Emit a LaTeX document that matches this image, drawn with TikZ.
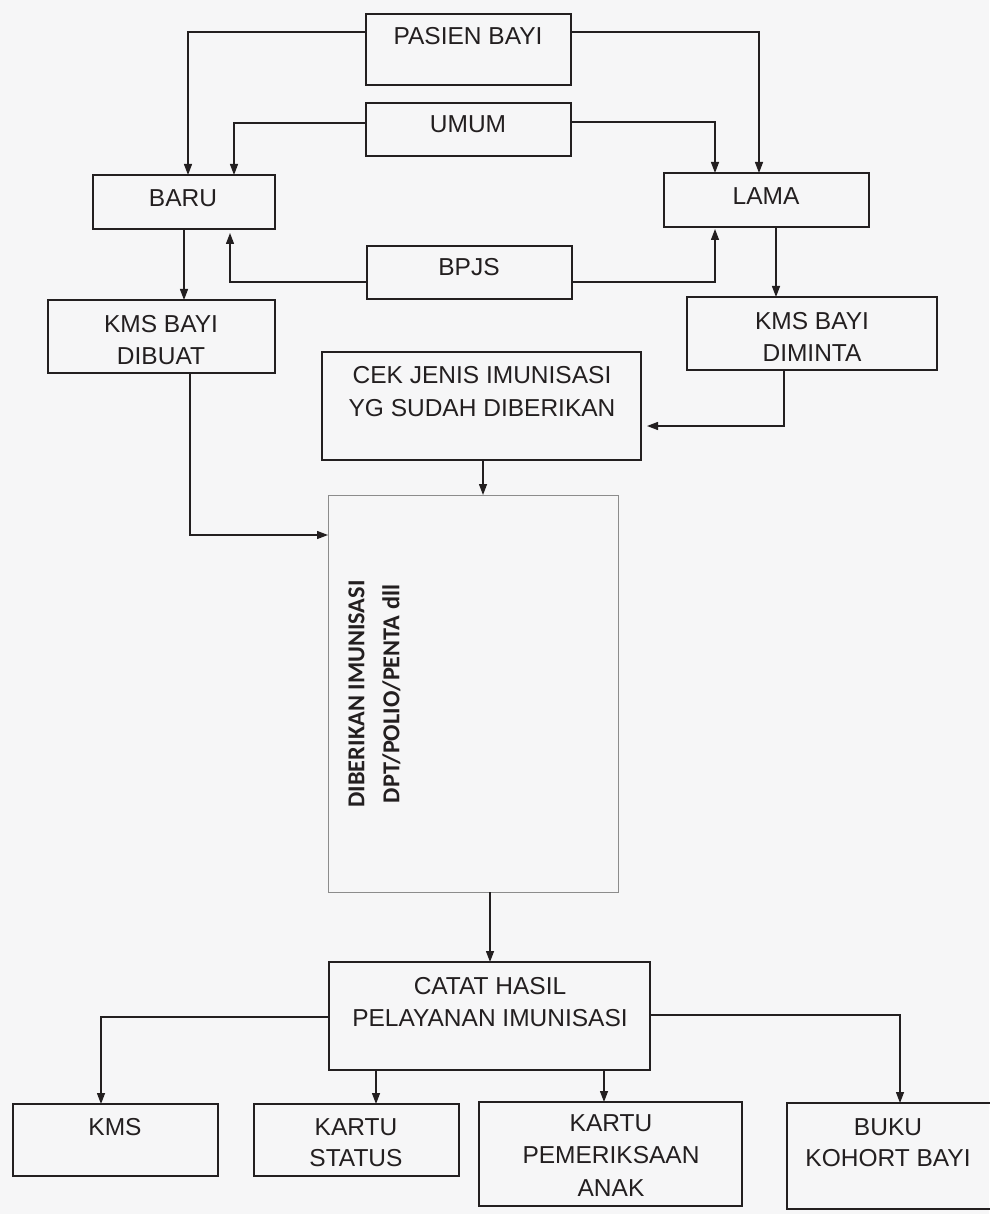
\documentclass[tikz,border=0pt]{standalone}
\usepackage{fontspec}
\setmainfont{Liberation Sans}
\newfontfamily\calibrifont{Carlito}
\usetikzlibrary{arrows.meta}
\definecolor{paper}{RGB}{246,246,247}
\definecolor{ink}{RGB}{35,31,32}
\definecolor{thin}{RGB}{140,140,140}
\tikzset{
  bx/.style={draw=ink, line width=1.7pt, anchor=north west, inner sep=0pt, outer sep=0pt},
  thinbx/.style={draw=thin, line width=0.9pt, anchor=north west, inner sep=0pt, outer sep=0pt},
  txt/.style={font=\fontsize{24.5}{32.5}\selectfont, text=ink, align=center, inner sep=0pt},
  arr/.style={draw=ink, line width=1.3pt, -{Triangle[length=11pt,width=8pt]}},
}
\begin{document}
\begin{tikzpicture}[x=1pt,y=-1pt]
\fill[paper] (0,0) rectangle (989,1214);
\useasboundingbox (0,0) rectangle (989,1214);
% boxes
\node[bx, minimum width=205pt, minimum height=71pt] (pasien) at (366,14) {};
\node[bx, minimum width=205pt, minimum height=53pt] (umum) at (366,103) {};
\node[bx, minimum width=182pt, minimum height=54pt] (baru) at (93,175) {};
\node[bx, minimum width=205pt, minimum height=54pt] (lama) at (664,173) {};
\node[bx, minimum width=205pt, minimum height=53pt] (bpjs) at (367,246) {};
\node[bx, minimum width=227pt, minimum height=73pt] (kmsdibuat) at (48,300) {};
\node[bx, minimum width=250pt, minimum height=73pt] (kmsdiminta) at (687,297) {};
\node[bx, minimum width=319pt, minimum height=108pt] (cek) at (322,352) {};
\node[thinbx, minimum width=290pt, minimum height=397pt] (diberikan) at (328,495) {};
\node[bx, minimum width=321pt, minimum height=108pt] (catat) at (329,962) {};
\node[bx, minimum width=205pt, minimum height=72pt] (kms) at (13,1104) {};
\node[bx, minimum width=205pt, minimum height=72pt] (kstatus) at (254,1104) {};
\node[bx, minimum width=263pt, minimum height=104pt] (kpem) at (479,1102) {};
\node[bx, minimum width=213pt, minimum height=106pt] (buku) at (787,1103) {};
% texts
\node[txt] (t-pasien) at (468,36) {PASIEN BAYI};
\node[txt] (t-umum) at (468,124) {UMUM};
\node[txt] (t-baru) at (183,198) {BARU};
\node[txt] (t-lama) at (766,196) {LAMA};
\node[txt] (t-bpjs) at (469,267) {BPJS};
\node[txt] (t-kmsdibuat) at (161,340) {KMS BAYI\\DIBUAT};
\node[txt] (t-kmsdiminta) at (812,337) {KMS BAYI\\DIMINTA};
\node[txt] (t-cek) at (482,391.5) {CEK JENIS IMUNISASI\\YG SUDAH DIBERIKAN};
\node[txt, font=\calibrifont\bfseries\fontsize{24.3}{35}\selectfont, rotate=90] (t-diberikan) at (374.5,694) {DIBERIKAN IMUNISASI\\DPT/POLIO/PENTA dll};
\node[txt] (t-catat) at (490,1002) {CATAT HASIL\\PELAYANAN IMUNISASI};
\node[txt] (t-kms) at (115,1127) {KMS};
\node[txt, font=\fontsize{24.5}{31}\selectfont] (t-kstatus) at (356,1142.5) {KARTU\\STATUS};
\node[txt] (t-kpem) at (611,1155.5) {KARTU\\PEMERIKSAAN\\ANAK};
\node[txt, font=\fontsize{24.5}{31}\selectfont] (t-buku) at (888,1142.5) {BUKU\\KOHORT BAYI};
% connectors
\draw[arr] (pasien.west |- 0,32) -| (188,0 |- baru.north);
\draw[arr] (pasien.east |- 0,32) -| (759,0 |- lama.north);
\draw[arr] (umum.west |- 0,123) -| (234,0 |- baru.north);
\draw[arr] (umum.east |- 0,122) -| (715,0 |- lama.north);
\draw[arr, shorten >=4pt] (bpjs.west |- 0,282) -| (230,0 |- baru.south);
\draw[arr, shorten >=2pt] (bpjs.east |- 0,282) -| (715,0 |- lama.south);
\draw[arr] (184,0 |- baru.south) -- (184,0 |- kmsdibuat.north);
\draw[arr] (776,0 |- lama.south) -- (776,0 |- kmsdiminta.north);
\draw[arr, shorten >=6pt] (784,0 |- kmsdiminta.south) |- (cek.east |- 0,426);
\draw[arr] (483,0 |- cek.south) -- (483,0 |- diberikan.north);
\draw[arr] (190,0 |- kmsdibuat.south) |- (diberikan.west |- 0,535);
\draw[arr] (490,0 |- diberikan.south) -- (490,0 |- catat.north);
\draw[arr] (catat.west |- 0,1017) -| (101,0 |- kms.north);
\draw[arr] (catat.east |- 0,1015) -| (900,0 |- buku.north);
\draw[arr] (376,0 |- catat.south) -- (376,0 |- kstatus.north);
\draw[arr] (604,0 |- catat.south) -- (604,0 |- kpem.north);
\end{tikzpicture}
\end{document}
